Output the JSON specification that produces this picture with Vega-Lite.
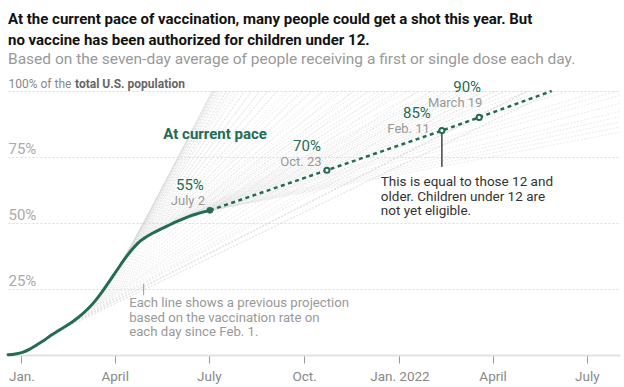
{
  "$schema": "https://vega.github.io/schema/vega-lite/v6.json",
  "width": 612,
  "height": 264,
  "autosize": {"type": "none"},
  "padding": {"left": 8, "right": 4, "top": 91, "bottom": 32},
  "background": "white",
  "config": {"view": {"stroke": null}, "font": "Roboto"},
  "title": {
    "text": ["At the current pace of vaccination, many people could get a shot this year. But", "no vaccine has been authorized for children under 12."],
    "subtitle": "Based on the seven-day average of people receiving a first or single dose each day.",
    "anchor": "start",
    "frame": "group",
    "orient": "top",
    "offset": 10,
    "font": "Roboto",
    "fontSize": 15,
    "fontWeight": "bold",
    "color": "#121212",
    "lineHeight": 21,
    "subtitleFont": "Roboto",
    "subtitleFontSize": 15.5,
    "subtitleColor": "#999999",
    "subtitleFontWeight": "normal",
    "subtitlePadding": 4
  },
  "datasets": {
    "actual": [
      {"date": "2020-12-19", "pct": 0.1},
      {"date": "2020-12-26", "pct": 0.4},
      {"date": "2021-01-02", "pct": 1.0},
      {"date": "2021-01-09", "pct": 2.2},
      {"date": "2021-01-16", "pct": 3.9},
      {"date": "2021-01-23", "pct": 5.6},
      {"date": "2021-01-30", "pct": 7.6},
      {"date": "2021-02-06", "pct": 9.3},
      {"date": "2021-02-13", "pct": 11.0},
      {"date": "2021-02-20", "pct": 12.8},
      {"date": "2021-02-27", "pct": 14.9},
      {"date": "2021-03-06", "pct": 17.4},
      {"date": "2021-03-13", "pct": 20.4},
      {"date": "2021-03-20", "pct": 24.0},
      {"date": "2021-03-27", "pct": 28.0},
      {"date": "2021-04-03", "pct": 32.0},
      {"date": "2021-04-10", "pct": 36.0},
      {"date": "2021-04-17", "pct": 39.6},
      {"date": "2021-04-24", "pct": 42.6},
      {"date": "2021-05-01", "pct": 44.6},
      {"date": "2021-05-08", "pct": 46.2},
      {"date": "2021-05-15", "pct": 47.6},
      {"date": "2021-05-22", "pct": 48.9},
      {"date": "2021-05-29", "pct": 50.2},
      {"date": "2021-06-05", "pct": 51.4},
      {"date": "2021-06-12", "pct": 52.5},
      {"date": "2021-06-19", "pct": 53.4},
      {"date": "2021-06-26", "pct": 54.2},
      {"date": "2021-07-02", "pct": 54.8}
    ],
    "pace": [
      {"date": "2021-07-02", "pct": 54.8},
      {"date": "2021-10-23", "pct": 70},
      {"date": "2022-02-11", "pct": 85},
      {"date": "2022-03-19", "pct": 90},
      {"date": "2022-05-28", "pct": 100}
    ],
    "fan": [
      {"date": "2021-02-01", "pct": 8.1, "end": "2022-05-31"},
      {"date": "2021-02-04", "pct": 8.8, "end": "2022-05-30"},
      {"date": "2021-02-07", "pct": 9.5, "end": "2022-05-06"},
      {"date": "2021-02-10", "pct": 10.3, "end": "2022-05-05"},
      {"date": "2021-02-13", "pct": 11.0, "end": "2022-05-04"},
      {"date": "2021-02-16", "pct": 11.8, "end": "2022-04-12"},
      {"date": "2021-02-19", "pct": 12.5, "end": "2022-04-02"},
      {"date": "2021-02-22", "pct": 13.4, "end": "2022-03-23"},
      {"date": "2021-02-25", "pct": 14.3, "end": "2022-03-05"},
      {"date": "2021-02-28", "pct": 15.3, "end": "2022-02-16"},
      {"date": "2021-03-01T12:00:00Z", "pct": 15.8, "end": "2022-02-01"},
      {"date": "2021-03-03", "pct": 16.3, "end": "2022-01-19"},
      {"date": "2021-03-04T12:00:00Z", "pct": 16.85, "end": "2022-01-01"},
      {"date": "2021-03-06", "pct": 17.4, "end": "2021-12-16"},
      {"date": "2021-03-07T12:00:00Z", "pct": 18.05, "end": "2021-12-01"},
      {"date": "2021-03-09", "pct": 18.7, "end": "2021-11-18"},
      {"date": "2021-03-10T12:00:00Z", "pct": 19.35, "end": "2021-11-03"},
      {"date": "2021-03-12", "pct": 20.0, "end": "2021-10-20"},
      {"date": "2021-03-13T12:00:00Z", "pct": 20.7, "end": "2021-10-08"},
      {"date": "2021-03-15", "pct": 21.4, "end": "2021-09-28"},
      {"date": "2021-03-16T12:00:00Z", "pct": 22.2, "end": "2021-09-16"},
      {"date": "2021-03-18", "pct": 23.0, "end": "2021-09-05"},
      {"date": "2021-03-19T12:00:00Z", "pct": 23.8, "end": "2021-08-27"},
      {"date": "2021-03-21", "pct": 24.6, "end": "2021-08-19"},
      {"date": "2021-03-22T12:00:00Z", "pct": 25.45, "end": "2021-08-12"},
      {"date": "2021-03-24", "pct": 26.3, "end": "2021-08-05"},
      {"date": "2021-03-25T12:00:00Z", "pct": 27.15, "end": "2021-07-30"},
      {"date": "2021-03-27", "pct": 28.0, "end": "2021-07-25"},
      {"date": "2021-03-28T12:00:00Z", "pct": 28.85, "end": "2021-07-21"},
      {"date": "2021-03-30", "pct": 29.7, "end": "2021-07-18"},
      {"date": "2021-03-31T12:00:00Z", "pct": 30.55, "end": "2021-07-15"},
      {"date": "2021-04-02", "pct": 31.4, "end": "2021-07-12"},
      {"date": "2021-04-03T12:00:00Z", "pct": 32.25, "end": "2021-07-10"},
      {"date": "2021-04-05", "pct": 33.1, "end": "2021-07-08"},
      {"date": "2021-04-06T12:00:00Z", "pct": 34.0, "end": "2021-07-07"},
      {"date": "2021-04-08", "pct": 34.9, "end": "2021-07-06"},
      {"date": "2021-04-09T12:00:00Z", "pct": 35.7, "end": "2021-07-05"},
      {"date": "2021-04-11", "pct": 36.5, "end": "2021-07-05"},
      {"date": "2021-04-12T12:00:00Z", "pct": 37.3, "end": "2021-07-04"},
      {"date": "2021-04-14", "pct": 38.1, "end": "2021-07-04"},
      {"date": "2021-04-15T12:00:00Z", "pct": 38.85, "end": "2021-07-06"},
      {"date": "2021-04-17", "pct": 39.6, "end": "2021-07-08"},
      {"date": "2021-04-18T12:00:00Z", "pct": 40.25, "end": "2021-07-10"},
      {"date": "2021-04-20", "pct": 40.9, "end": "2021-07-13"},
      {"date": "2021-04-21T12:00:00Z", "pct": 41.55, "end": "2021-07-18"},
      {"date": "2021-04-23", "pct": 42.2, "end": "2021-07-22"},
      {"date": "2021-04-24T12:00:00Z", "pct": 42.7, "end": "2021-07-28"},
      {"date": "2021-04-26", "pct": 43.2, "end": "2021-08-04"},
      {"date": "2021-04-27T12:00:00Z", "pct": 43.6, "end": "2021-08-11"},
      {"date": "2021-04-29", "pct": 44.0, "end": "2021-08-19"},
      {"date": "2021-04-30T12:00:00Z", "pct": 44.4, "end": "2021-08-27"},
      {"date": "2021-05-02", "pct": 44.8, "end": "2021-09-05"},
      {"date": "2021-05-03T12:00:00Z", "pct": 45.15, "end": "2021-09-13"},
      {"date": "2021-05-05", "pct": 45.5, "end": "2021-09-22"},
      {"date": "2021-05-06T12:00:00Z", "pct": 45.85, "end": "2021-09-30"},
      {"date": "2021-05-08", "pct": 46.2, "end": "2021-10-09"},
      {"date": "2021-05-09T12:00:00Z", "pct": 46.5, "end": "2021-10-19"},
      {"date": "2021-05-11", "pct": 46.8, "end": "2021-10-30"},
      {"date": "2021-05-12T12:00:00Z", "pct": 47.1, "end": "2021-11-08"},
      {"date": "2021-05-14", "pct": 47.4, "end": "2021-11-18"},
      {"date": "2021-05-15T12:00:00Z", "pct": 47.7, "end": "2021-11-25"},
      {"date": "2021-05-17", "pct": 48.0, "end": "2021-12-03"},
      {"date": "2021-05-18T12:00:00Z", "pct": 48.25, "end": "2021-12-12"},
      {"date": "2021-05-20", "pct": 48.5, "end": "2021-12-21"},
      {"date": "2021-05-21T12:00:00Z", "pct": 48.8, "end": "2021-12-30"},
      {"date": "2021-05-23", "pct": 49.1, "end": "2022-01-09"},
      {"date": "2021-05-24T12:00:00Z", "pct": 49.35, "end": "2022-01-21"},
      {"date": "2021-05-26", "pct": 49.6, "end": "2022-02-02"},
      {"date": "2021-05-27T12:00:00Z", "pct": 49.9, "end": "2022-02-08"},
      {"date": "2021-05-29", "pct": 50.2, "end": "2022-02-15"},
      {"date": "2021-05-30T12:00:00Z", "pct": 50.45, "end": "2022-02-22"},
      {"date": "2021-06-01", "pct": 50.7, "end": "2022-03-02"},
      {"date": "2021-06-02T12:00:00Z", "pct": 50.95, "end": "2022-03-10"},
      {"date": "2021-06-04", "pct": 51.2, "end": "2022-03-18"},
      {"date": "2021-06-05T12:00:00Z", "pct": 51.45, "end": "2022-03-27"},
      {"date": "2021-06-07", "pct": 51.7, "end": "2022-04-05"},
      {"date": "2021-06-08T12:00:00Z", "pct": 51.95, "end": "2022-04-15"},
      {"date": "2021-06-10", "pct": 52.2, "end": "2022-04-25"},
      {"date": "2021-06-11T12:00:00Z", "pct": 52.4, "end": "2022-05-06"},
      {"date": "2021-06-13", "pct": 52.6, "end": "2022-05-18"},
      {"date": "2021-06-14T12:00:00Z", "pct": 52.8, "end": "2022-06-13"},
      {"date": "2021-06-16", "pct": 53.0, "end": "2022-07-13"},
      {"date": "2021-06-17T12:00:00Z", "pct": 53.2, "end": "2022-07-30"},
      {"date": "2021-06-19", "pct": 53.4, "end": "2022-08-17"},
      {"date": "2021-06-20T12:00:00Z", "pct": 53.55, "end": "2022-09-17"},
      {"date": "2021-06-22", "pct": 53.7, "end": "2022-10-22"},
      {"date": "2021-06-23T12:00:00Z", "pct": 53.9, "end": "2022-11-18"},
      {"date": "2021-06-25", "pct": 54.1, "end": "2022-12-17"},
      {"date": "2021-06-26T12:00:00Z", "pct": 54.25, "end": "2023-01-19"},
      {"date": "2021-06-28", "pct": 54.4, "end": "2023-02-26"}
    ],
    "milestones": [
      {"date": "2021-07-02", "pct": 54.8, "pctLabel": "55%", "dateLabel": "July 2"},
      {"date": "2021-10-23", "pct": 70, "pctLabel": "70%", "dateLabel": "Oct. 23"},
      {"date": "2022-02-11", "pct": 85, "pctLabel": "85%", "dateLabel": "Feb. 11"},
      {"date": "2022-03-19", "pct": 90, "pctLabel": "90%", "dateLabel": "March 19"}
    ]
  },
  "encoding": {
    "x": {
      "field": "date",
      "type": "temporal",
      "scale": {
        "type": "utc",
        "domain": [
          {"year": 2020, "month": 12, "date": 19, "utc": true},
          {"year": 2022, "month": 8, "date": 2, "utc": true}
        ]
      },
      "axis": {
        "title": null,
        "values": [
          {"year": 2021, "month": 1, "date": 1, "utc": true},
          {"year": 2021, "month": 4, "date": 1, "utc": true},
          {"year": 2021, "month": 7, "date": 1, "utc": true},
          {"year": 2021, "month": 10, "date": 1, "utc": true},
          {"year": 2022, "month": 1, "date": 1, "utc": true},
          {"year": 2022, "month": 4, "date": 1, "utc": true},
          {"year": 2022, "month": 7, "date": 1, "utc": true}
        ],
        "labelExpr": "utcmonth(datum.value) == 0 ? (utcyear(datum.value) == 2022 ? 'Jan. 2022' : 'Jan.') : utcmonth(datum.value) == 3 ? 'April' : utcmonth(datum.value) == 6 ? 'July' : 'Oct.'",
        "grid": false,
        "domainColor": "#e2e2e2",
        "domainWidth": 2,
        "tickColor": "#999999",
        "tickSize": 8,
        "tickWidth": 1,
        "labelPadding": 6,
        "labelFont": "Roboto",
        "labelFontSize": 13.5,
        "labelColor": "#888888",
        "labelFlush": false,
        "labelOverlap": false
      }
    },
    "y": {
      "field": "pct",
      "type": "quantitative",
      "scale": {"domain": [0, 100]},
      "axis": {
        "title": null,
        "values": [25, 50, 75, 100],
        "labelExpr": "datum.value == 100 ? '100% of the' : datum.value + '%'",
        "domain": false,
        "ticks": false,
        "grid": true,
        "gridColor": "#dddddd",
        "gridDash": [2, 2],
        "gridWidth": 1,
        "labelAlign": "left",
        "labelBaseline": "alphabetic",
        "labelOffset": -3.5,
        "labelPadding": 0,
        "labelFont": "Roboto",
        "labelFontSize": {"condition": {"test": "datum.value == 100", "value": 12}, "value": 15},
        "labelColor": {"condition": {"test": "datum.value == 100", "value": "#888888"}, "value": "#aaaaaa"}
      }
    }
  },
  "layer": [
    {
      "data": {"name": "fan"},
      "mark": {"type": "rule", "clip": true, "stroke": "#d2d2d2", "strokeWidth": 0.8, "strokeDash": [2, 1.5], "opacity": 0.6},
      "encoding": {
        "x2": {"field": "end"},
        "y2": {"datum": 100}
      }
    },
    {
      "data": {"name": "actual"},
      "mark": {"type": "line", "stroke": "#236b56", "strokeWidth": 3, "interpolate": "monotone", "strokeCap": "round"},
      "encoding": {}
    },
    {
      "data": {"name": "pace"},
      "mark": {"type": "line", "stroke": "#236b56", "strokeWidth": 2.5, "strokeDash": [4, 3.5]},
      "encoding": {}
    },
    {
      "data": {"values": [{"date": "2022-02-11", "pct": 84, "pct2": 71.3}]},
      "mark": {"type": "rule", "stroke": "#444444", "strokeWidth": 1.5},
      "encoding": {"y2": {"field": "pct2"}}
    },
    {
      "data": {"values": [{"date": "2021-04-29", "pct": 26.9, "pct2": 22.7}]},
      "mark": {"type": "rule", "stroke": "#999999", "strokeWidth": 1},
      "encoding": {"y2": {"field": "pct2"}}
    },
    {
      "data": {"name": "milestones"},
      "transform": [{"filter": "datum.pctLabel == '55%'"}],
      "mark": {"type": "circle", "size": 44, "fill": "#236b56", "opacity": 1},
      "encoding": {}
    },
    {
      "data": {"name": "milestones"},
      "transform": [{"filter": "datum.pctLabel != '55%'"}],
      "mark": {"type": "point", "shape": "circle", "size": 26, "filled": true, "fill": "white", "stroke": "#236b56", "strokeWidth": 2, "opacity": 1},
      "encoding": {}
    },
    {
      "data": {"name": "milestones"},
      "transform": [{"filter": "datum.pctLabel == '55%'"}],
      "mark": {"type": "text", "align": "center", "baseline": "alphabetic", "dx": -20, "dy": -20.5, "fontSize": 15, "color": "#236b56"},
      "encoding": {"text": {"field": "pctLabel"}}
    },
    {
      "data": {"name": "milestones"},
      "transform": [{"filter": "datum.pctLabel == '55%'"}],
      "mark": {"type": "text", "align": "center", "baseline": "alphabetic", "dx": -22, "dy": -5, "fontSize": 13, "color": "#999999"},
      "encoding": {"text": {"field": "dateLabel"}}
    },
    {
      "data": {"name": "milestones"},
      "transform": [{"filter": "datum.pctLabel == '70%'"}],
      "mark": {"type": "text", "align": "center", "baseline": "alphabetic", "dx": -20, "dy": -19.5, "fontSize": 15, "color": "#236b56"},
      "encoding": {"text": {"field": "pctLabel"}}
    },
    {
      "data": {"name": "milestones"},
      "transform": [{"filter": "datum.pctLabel == '70%'"}],
      "mark": {"type": "text", "align": "center", "baseline": "alphabetic", "dx": -26, "dy": -4, "fontSize": 13, "color": "#999999"},
      "encoding": {"text": {"field": "dateLabel"}}
    },
    {
      "data": {"name": "milestones"},
      "transform": [{"filter": "datum.pctLabel == '85%'"}],
      "mark": {"type": "text", "align": "center", "baseline": "alphabetic", "dx": -25, "dy": -13, "fontSize": 15, "color": "#236b56"},
      "encoding": {"text": {"field": "pctLabel"}}
    },
    {
      "data": {"name": "milestones"},
      "transform": [{"filter": "datum.pctLabel == '85%'"}],
      "mark": {"type": "text", "align": "right", "baseline": "alphabetic", "dx": -12, "dy": 2.4, "fontSize": 13, "color": "#999999"},
      "encoding": {"text": {"field": "dateLabel"}}
    },
    {
      "data": {"name": "milestones"},
      "transform": [{"filter": "datum.pctLabel == '90%'"}],
      "mark": {"type": "text", "align": "center", "baseline": "alphabetic", "dx": -12, "dy": -25, "fontSize": 15, "color": "#236b56"},
      "encoding": {"text": {"field": "pctLabel"}}
    },
    {
      "data": {"name": "milestones"},
      "transform": [{"filter": "datum.pctLabel == '90%'"}],
      "mark": {"type": "text", "align": "center", "baseline": "alphabetic", "dx": -24, "dy": -10, "fontSize": 13, "color": "#999999"},
      "encoding": {"text": {"field": "dateLabel"}}
    },
    {
      "data": {"values": [{"date": "2021-05-18", "pct": 81.7, "label": "At current pace"}]},
      "mark": {"type": "text", "align": "left", "baseline": "alphabetic", "fontSize": 15, "fontWeight": "bold", "color": "#236b56"},
      "encoding": {"text": {"field": "label"}}
    },
    {
      "data": {"values": [{"date": "2020-12-19", "pct": 100, "label": "total U.S. population"}]},
      "mark": {"type": "text", "align": "left", "baseline": "alphabetic", "dx": 67, "dy": -3.5, "fontSize": 12, "fontWeight": "bold", "color": "#666666"},
      "encoding": {"text": {"field": "label"}}
    },
    {
      "data": {"values": [{"date": "2021-12-14", "pct": 64.0, "label": ["This is equal to those 12 and", "older. Children under 12 are", "not yet eligible."]}]},
      "mark": {"type": "text", "align": "left", "baseline": "alphabetic", "fontSize": 13.5, "lineHeight": 14.5, "color": "#333333"},
      "encoding": {"text": {"field": "label"}}
    },
    {
      "data": {"values": [{"date": "2021-04-15", "pct": 18.0, "label": ["Each line shows a previous projection", "based on the vaccination rate on", "each day since Feb. 1."]}]},
      "mark": {"type": "text", "align": "left", "baseline": "alphabetic", "fontSize": 13.2, "lineHeight": 14.5, "color": "#999999"},
      "encoding": {"text": {"field": "label"}}
    }
  ]
}
